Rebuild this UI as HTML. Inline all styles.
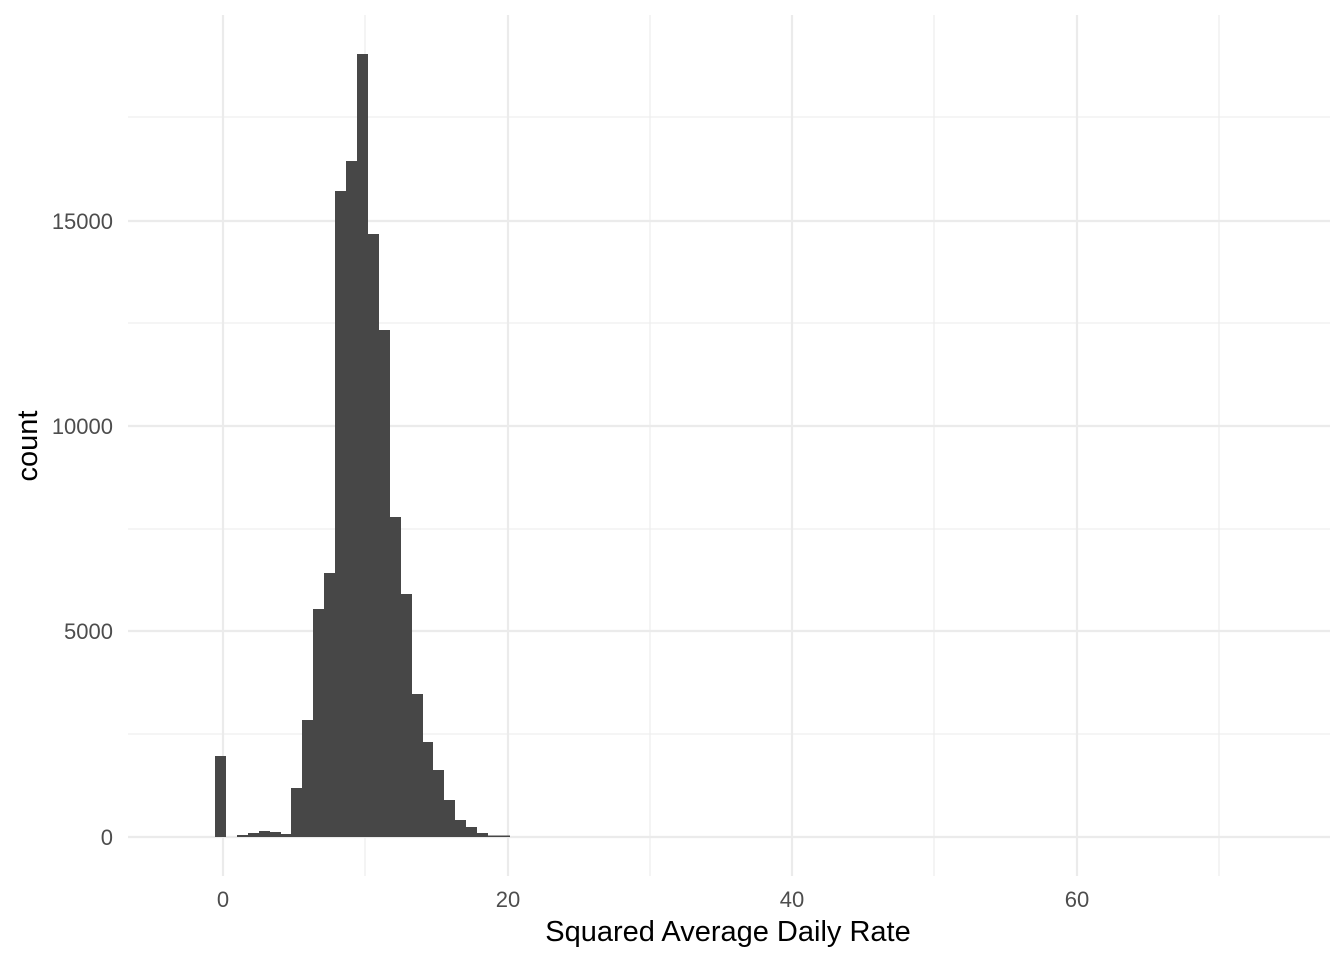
<!DOCTYPE html>
<html><head><style>body{margin:0;background:#fff}svg{display:block}text{font-family:"Liberation Sans",sans-serif}</style></head><body>
<svg width="1344" height="960" xmlns="http://www.w3.org/2000/svg">
<rect width="1344" height="960" fill="#fff"/>
<g stroke="#ebebeb" stroke-width="1.1">
<line x1="128" x2="1330" y1="734" y2="734"/><line x1="128" x2="1330" y1="529" y2="529"/><line x1="128" x2="1330" y1="323" y2="323"/><line x1="128" x2="1330" y1="117" y2="117"/>
<line y1="15" y2="876" x1="365" x2="365"/><line y1="15" y2="876" x1="650" x2="650"/><line y1="15" y2="876" x1="934" x2="934"/><line y1="15" y2="876" x1="1219" x2="1219"/>
</g>
<g stroke="#ebebeb" stroke-width="2.2">
<line x1="128" x2="1330" y1="837" y2="837"/><line x1="128" x2="1330" y1="631" y2="631"/><line x1="128" x2="1330" y1="426" y2="426"/><line x1="128" x2="1330" y1="221" y2="221"/>
<line y1="15" y2="876" x1="223" x2="223"/><line y1="15" y2="876" x1="508" x2="508"/><line y1="15" y2="876" x1="792" x2="792"/><line y1="15" y2="876" x1="1077" x2="1077"/>
</g>
<g fill="#474747">
<rect x="215" y="756" width="11" height="81"/>
<rect x="237" y="835" width="11" height="2"/>
<rect x="248" y="833" width="11" height="4"/>
<rect x="259" y="831" width="11" height="6"/>
<rect x="270" y="832" width="11" height="5"/>
<rect x="280" y="834" width="11" height="3"/>
<rect x="291" y="788" width="11" height="49"/>
<rect x="302" y="720" width="11" height="117"/>
<rect x="313" y="609" width="11" height="228"/>
<rect x="324" y="573" width="11" height="264"/>
<rect x="335" y="191" width="11" height="646"/>
<rect x="346" y="161" width="11" height="676"/>
<rect x="357" y="54" width="11" height="783"/>
<rect x="368" y="234" width="11" height="603"/>
<rect x="379" y="330" width="11" height="507"/>
<rect x="390" y="517" width="11" height="320"/>
<rect x="401" y="594" width="11" height="243"/>
<rect x="412" y="694" width="11" height="143"/>
<rect x="423" y="742" width="10" height="95"/>
<rect x="433" y="770" width="11" height="67"/>
<rect x="444" y="800" width="11" height="37"/>
<rect x="455" y="820" width="11" height="17"/>
<rect x="466" y="827" width="11" height="10"/>
<rect x="477" y="833" width="11" height="4"/>
<rect x="488" y="835.5" width="22" height="1.5"/>
</g>
<g fill="#4d4d4d" font-size="22" text-anchor="end">
<text x="113" y="845">0</text><text x="113" y="639">5000</text><text x="113" y="434">10000</text><text x="113" y="229">15000</text>
</g>
<g fill="#4d4d4d" font-size="22" text-anchor="middle">
<text x="223" y="907">0</text><text x="508" y="907">20</text><text x="792" y="907">40</text><text x="1077" y="907">60</text>
</g>
<text x="728" y="941" font-size="29" text-anchor="middle" fill="#000">Squared Average Daily Rate</text>
<text transform="translate(37,446) rotate(-90)" font-size="29" text-anchor="middle" fill="#000">count</text>
</svg>
</body></html>
